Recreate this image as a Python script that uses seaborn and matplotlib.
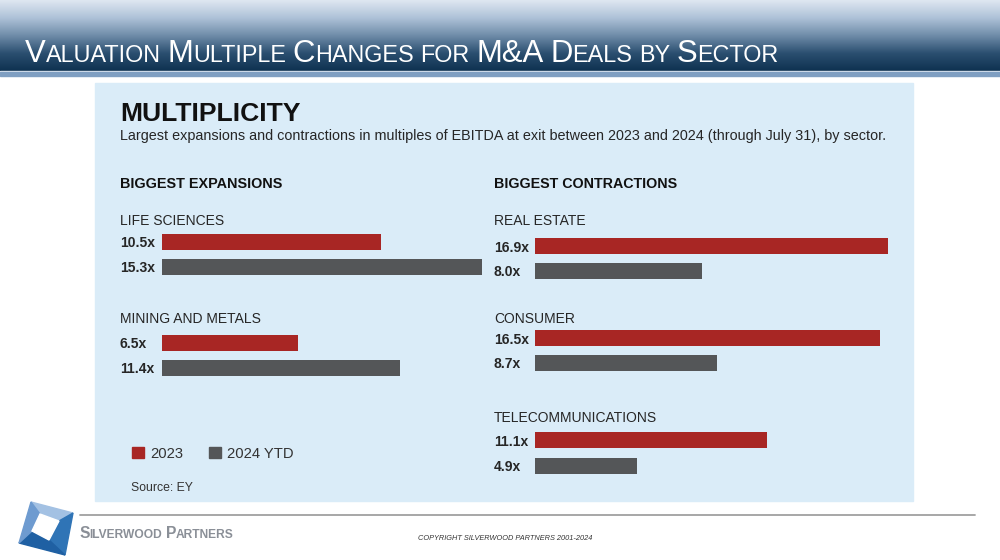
import numpy as np
import pandas as pd
import seaborn as sns
import matplotlib.pyplot as plt
from matplotlib.patches import Rectangle, Polygon
from matplotlib.colors import LinearSegmentedColormap
from matplotlib.transforms import blended_transform_factory


YEARS = ["2023", "2024 YTD"]

EXP_SECTORS = ["LIFE SCIENCES", "MINING AND METALS"]
EXP_2023 = [10.5, 6.5]
EXP_2024 = [15.3, 11.4]

CON_SECTORS = ["REAL ESTATE", "CONSUMER", "TELECOMMUNICATIONS"]
CON_2023 = [16.9, 16.5, 11.1]
CON_2024 = [8.0, 8.7, 4.9]

RED = "#a82624"
GRAY = "#545658"
INK = "#262626"
PANEL = "#daecf8"

W, H = 1000, 560
PX_PER_X = 20.9   # pixels per 1.0x of EBITDA multiple
XMAX = 17.5

sns.set_theme(style="white")
COND = ["Liberation Sans Narrow", "Liberation Sans", "DejaVu Sans"]
plt.rcParams["font.family"] = COND

fig = plt.figure(figsize=(10, 5.6), dpi=100)
fig.patch.set_facecolor("white")
renderer = fig.canvas.get_renderer()


def fx(px):
    return px / W


def fy(py):
    return 1 - py / H


def text_px(x, y, s, size=12, width=None, **kw):
    t = fig.text(fx(x), fy(y), s, fontsize=size, va="baseline", **kw)
    if width is not None:
        for _ in range(3):
            w = t.get_window_extent(renderer).width
            t.set_fontsize(t.get_fontsize() * width / w)
    return t


def small_caps(x0, y, words, big, small, width, **kw):
    # first pass measures, second pass draws at the fitted scale
    def run(scale, draw):
        x = x0
        made = []
        for k, word in enumerate(words):
            if k:
                x += 0.28 * small * scale * 100 / 72
            for s, is_big in word:
                t = fig.text(fx(x), fy(y), s, va="baseline",
                             fontsize=(big if is_big else small) * scale, **kw)
                x += t.get_window_extent(renderer).width
                made.append(t)
        if not draw:
            for t in made:
                t.remove()
        return x - x0
    scale = 1.0
    for _ in range(2):
        scale *= width / run(scale, False)
    run(scale, True)


# title bar
cmap = LinearSegmentedColormap.from_list(
    "bar", ["#dfe7f1", "#aec2d8", "#6f8ca9", "#2b4f70", "#0e3150"])
bar = fig.add_axes([0, fy(71), 1, 71 / H])
bar.imshow(np.linspace(0, 1, 256).reshape(-1, 1), aspect="auto", cmap=cmap,
           extent=[0, 1, 0, 1])
bar.axis("off")
fig.patches.append(Rectangle((0, fy(72)), 1, 1 / H, transform=fig.transFigure,
                             color="#dfe8f2", zorder=3))
fig.patches.append(Rectangle((0, fy(75.5)), 1, 3.5 / H, transform=fig.transFigure,
                             color="#7f9fc2", zorder=3))

TITLE = [[("V", 1), ("ALUATION", 0)], [("M", 1), ("ULTIPLE", 0)],
         [("C", 1), ("HANGES", 0)], [("FOR", 0)], [("M&A", 1)],
         [("D", 1), ("EALS", 0)], [("BY", 0)], [("S", 1), ("ECTOR", 0)]]
small_caps(25, 62, TITLE, 24, 18, 754, color="white")

# light blue panel, kept behind the bar axes
fig.patches.append(Rectangle((fx(95), fy(501)), fx(913) - fx(95), (501 - 83) / H,
                             transform=fig.transFigure, color=PANEL, zorder=-5))

text_px(120, 121, "MULTIPLICITY", 20, width=180, weight="bold", color="#111111")
text_px(120, 140, "Largest expansions and contractions in multiples of EBITDA at "
        "exit between 2023 and 2024 (through July 31), by sector.",
        11, width=765, color=INK)
text_px(120, 188, "BIGGEST EXPANSIONS", 11, width=163, weight="bold", color="#111111")
text_px(494, 188, "BIGGEST CONTRACTIONS", 11, width=184, weight="bold", color="#111111")

# font sizes fitted on one reference string
probe = text_px(0, -100, "TELECOMMUNICATIONS", 11, width=156)
LABEL_SIZE = probe.get_fontsize() * 1.04
probe.remove()
probe = text_px(0, -100, "15.3x", 11, width=35, weight="bold")
VALUE_SIZE = probe.get_fontsize()
probe.remove()


def sector(x_lab, x0, title_y, c_red, c_gray, name, v23, v24):
    d = c_gray - c_red
    top, bottom = c_red - d / 2, c_gray + d / 2
    ax = fig.add_axes([fx(x0), fy(bottom), XMAX * PX_PER_X / W, (bottom - top) / H])
    df = pd.DataFrame({"year": YEARS, "value": [v23, v24]})
    sns.barplot(data=df, x="value", y="year", hue="year", palette=[RED, GRAY],
                width=16 / d, saturation=1, edgecolor="none", legend=False, ax=ax)
    ax.set_xlim(0, XMAX)
    ax.set_ylim(1.5, -0.5)
    ax.axis("off")
    tr = blended_transform_factory(fig.transFigure, ax.transData)
    for i, v in enumerate([v23, v24]):
        ax.text(fx(x_lab), i, f"{v:.1f}x", transform=tr, va="center_baseline",
                ha="left", fontsize=VALUE_SIZE, weight="bold", color=INK)
    text_px(x_lab, title_y, name, LABEL_SIZE, color=INK)


LEFT_ROWS = [(225, 241.5, 266.5), (323, 342.5, 367.5)]
RIGHT_ROWS = [(225, 246, 271), (323, 338, 363), (422, 440, 465.5)]

for (ty, cr, cg), name, a, b in zip(LEFT_ROWS, EXP_SECTORS, EXP_2023, EXP_2024):
    sector(120, 162, ty, cr, cg, name, a, b)
for (ty, cr, cg), name, a, b in zip(RIGHT_ROWS, CON_SECTORS, CON_2023, CON_2024):
    sector(494, 535, ty, cr, cg, name, a, b)

# legend
for x, c in [(132, RED), (209, GRAY)]:
    fig.patches.append(Rectangle((fx(x), fy(458)), 12 / W, 11 / H,
                                 transform=fig.transFigure, color=c))
t = text_px(150, 458, "2023", 12, width=33, color="#333333")
text_px(227, 458, "2024 YTD", t.get_fontsize(), color="#333333")
text_px(131, 491, "Source: EY", 10, width=62, color="#333333")

# footer
fig.add_artist(plt.Line2D([fx(80), fx(975)], [fy(515), fy(515)],
                          transform=fig.transFigure, color="#a0a0a0", lw=1.3))

# logo: tilted frame around a white square
O = [(31, 502), (73, 513), (65, 555), (19, 543)]
I = [(40, 514), (59, 521), (49, 540), (32, 531)]
facets = ["#a3c1e3", "#2f74b6", "#1f60a3", "#6e9bd0"]
for k, c in enumerate(facets):
    pts = [O[k], O[(k + 1) % 4], I[(k + 1) % 4], I[k]]
    fig.patches.append(Polygon([(fx(x), fy(y)) for x, y in pts], closed=True,
                               transform=fig.transFigure, color=c))
fig.patches.append(Polygon([(fx(x), fy(y)) for x, y in I], closed=True,
                           transform=fig.transFigure, color="white"))
small_caps(79, 538, [[("S", 1), ("ILVERWOOD", 0)], [("P", 1), ("ARTNERS", 0)]],
           13, 10, 155, color="#8a8f97", weight="bold",
           family=["Liberation Sans", "DejaVu Sans"])
text_px(505, 540, "COPYRIGHT SILVERWOOD PARTNERS 2001-2024", 6, width=175,
        ha="center", style="italic", color="#333333",
        family=["Liberation Sans", "DejaVu Sans"])

fig.savefig("out.png", dpi=100)
